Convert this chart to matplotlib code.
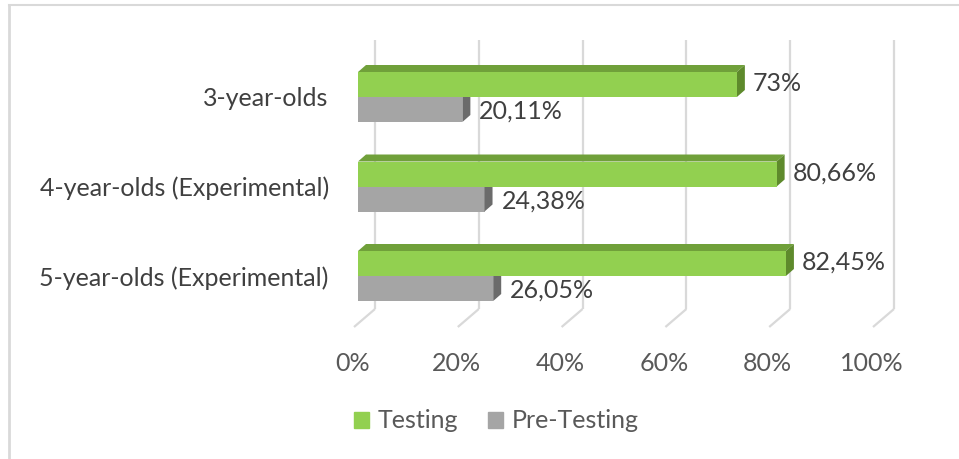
import matplotlib
matplotlib.use('Agg')
import matplotlib.pyplot as plt
from matplotlib.patches import Polygon, Patch
from matplotlib.lines import Line2D
from matplotlib.transforms import ScaledTranslation

categories = ['3-year-olds', '4-year-olds (Experimental)', '5-year-olds (Experimental)']
testing = [73.00, 80.66, 82.45]
pre_testing = [20.11, 24.38, 26.05]
series_names = ['Testing', 'Pre-Testing']
xticks = [0, 20, 40, 60, 80, 100]
xtick_labels = ['0%', '20%', '40%', '60%', '80%', '100%']

plt.rcParams['font.family'] = ['Lato', 'DejaVu Sans']
FS = 18

W, H, DPI = 959, 459, 100
fig = plt.figure(figsize=(W / DPI, H / DPI), dpi=DPI)

# front plane of the 3D plot, in pixels
ax_left, ax_right = 358, 877
ax_top, ax_bottom = 40, 325
spacing = 89.5
first_center = 97
ax = fig.add_axes([ax_left / W, 1 - ax_bottom / H,
                   (ax_right - ax_left) / W, (ax_bottom - ax_top) / H])
ax.set_xlim(0, 100)
ax.set_ylim((ax_bottom - first_center) / spacing, (ax_top - first_center) / spacing)

sx = 100 / (ax_right - ax_left)   # data per pixel (x)
sy = 1 / spacing                  # data per pixel (y, downwards)

def ypix(p):
    return (p - first_center) / spacing

GREEN, GREEN_TOP, GREEN_SIDE = '#92d050', '#70a03a', '#5e8a2c'
GRAY, GRAY_SIDE = '#a5a5a5', '#6b6b6b'
GRID = '#d9d9d9'
TXT = '#404040'

# back wall gridlines and floor diagonals
back_dx = 17 * sx
for v in xticks:
    ax.plot([v + back_dx, v + back_dx], [ypix(ax_top), ypix(309)], color=GRID, lw=1.6,
            clip_on=False, zorder=1, solid_capstyle='butt')
    ax.plot([v + back_dx, v - 4 * sx], [ypix(309), ypix(327)], color=GRID, lw=1.6,
            clip_on=False, zorder=1, solid_capstyle='butt')

h = 25 * sy
dx, dy = 8 * sx, 7 * sy
for i in range(len(categories)):
    # Pre-Testing (lower bar)
    g = pre_testing[i]
    ax.barh(i + h / 2, g, height=h, color=GRAY, zorder=2)
    ax.add_patch(Polygon([(g, i), (g + dx, i - dy), (g + dx, i + h - dy), (g, i + h)],
                         closed=True, color=GRAY_SIDE, zorder=2, lw=0))
    # Testing (upper bar)
    t = testing[i]
    ax.add_patch(Polygon([(0, i - h), (t, i - h), (t + dx, i - h - dy), (dx, i - h - dy)],
                         closed=True, color=GREEN_TOP, zorder=3, lw=0))
    ax.add_patch(Polygon([(t, i - h), (t + dx, i - h - dy), (t + dx, i - dy), (t, i)],
                         closed=True, color=GREEN_SIDE, zorder=3, lw=0))
    ax.barh(i - h / 2, t, height=h, color=GREEN, zorder=3)

def fmt(v):
    s = f'{v:.2f}'.replace('.', ',')
    if s.endswith(',00'):
        s = s[:-3]
    return s + '%'

for i in range(len(categories)):
    ax.annotate(fmt(testing[i]), xy=(testing[i], i - h / 2), xytext=(16, 1),
                textcoords='offset pixels', va='center', ha='left',
                fontsize=FS, color=TXT, zorder=5)
    ax.annotate(fmt(pre_testing[i]), xy=(pre_testing[i], i + h / 2), xytext=(17, -2),
                textcoords='offset pixels', va='center', ha='left',
                fontsize=FS, color=TXT, zorder=5)

ax.set_yticks(range(len(categories)), categories)
ax.set_xticks(xticks, xtick_labels)
ax.tick_params(axis='y', length=0, pad=21, labelsize=FS, labelcolor=TXT)
ax.tick_params(axis='x', length=0, pad=19.5, labelsize=FS, labelcolor='#595959')
for lab in ax.get_xticklabels():
    lab.set_transform(lab.get_transform() + ScaledTranslation(-4 / 72, 0, fig.dpi_scale_trans))
for s in ax.spines.values():
    s.set_visible(False)
ax.set_facecolor('none')

handles = [Patch(color=GREEN), Patch(color=GRAY)]
fig.legend(handles, series_names, loc='center', bbox_to_anchor=(496 / W, 1 - 421 / H),
           ncol=2, frameon=False, fontsize=FS, handlelength=0.6, handleheight=0.6,
           handletextpad=0.35, columnspacing=1.2, labelcolor='#595959')

# chart border
fig.add_artist(Line2D([9 / W, 9 / W], [0, 1 - 5 / H], transform=fig.transFigure, color=GRID, lw=2))
fig.add_artist(Line2D([9 / W, 1], [1 - 5 / H, 1 - 5 / H], transform=fig.transFigure, color=GRID, lw=1.5))

fig.savefig('out.png', dpi=DPI)
